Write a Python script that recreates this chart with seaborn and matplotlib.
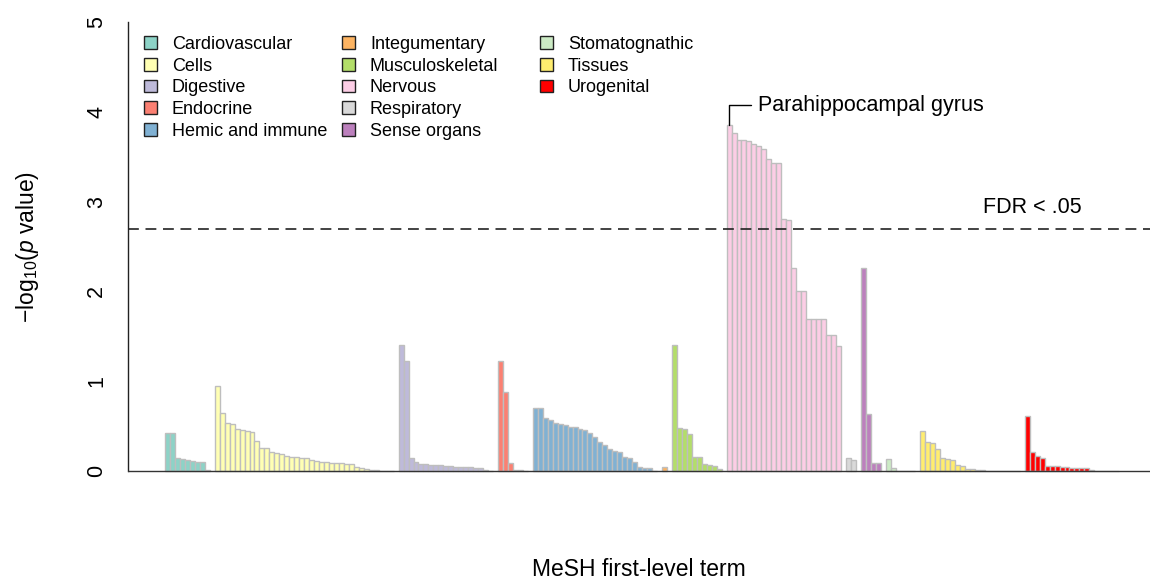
import numpy as np
import pandas as pd
import matplotlib
matplotlib.use("Agg")
import matplotlib.pyplot as plt
from matplotlib.patches import Patch
import seaborn as sns

# MeSH first-level groups, bars sorted within each group
groups = ["Cardiovascular", "Cells", "Digestive", "Endocrine", "Hemic and immune",
          "Integumentary", "Musculoskeletal", "Nervous", "Respiratory", "Sense organs",
          "Stomatognathic", "Tissues", "Urogenital"]
colors = ["#8DD3C7", "#FFFFB3", "#BEBADA", "#FB8072", "#80B1D3", "#FDB462", "#B3DE69",
          "#FCCDE5", "#D9D9D9", "#BC80BD", "#CCEBC5", "#FFED6F", "#FF0000"]

cardiovascular = [0.42, 0.42, 0.15, 0.13, 0.12, 0.11, 0.10, 0.10, 0.01]
cells = [0.95, 0.65, 0.53, 0.52, 0.47, 0.46, 0.45, 0.43, 0.34, 0.26, 0.26, 0.21, 0.20,
         0.19, 0.17, 0.16, 0.16, 0.15, 0.14, 0.12, 0.11, 0.10, 0.10, 0.09, 0.09, 0.09,
         0.08, 0.08, 0.04, 0.03, 0.02, 0.015, 0.01, 0.005, 0.002, 0.0]
digestive = [1.40, 1.22, 0.14, 0.10, 0.08, 0.075, 0.07, 0.07, 0.065, 0.06, 0.055, 0.05,
             0.045, 0.04, 0.04, 0.035, 0.03, 0.01, 0.0]
endocrine = [1.22, 0.88, 0.09, 0.01, 0.01, 0.0]
hemic = [0.70, 0.70, 0.59, 0.57, 0.54, 0.52, 0.51, 0.49, 0.49, 0.47, 0.46, 0.42, 0.38,
         0.32, 0.29, 0.24, 0.22, 0.21, 0.16, 0.14, 0.10, 0.04, 0.03, 0.03, 0.0]
integumentary = [0.05]
musculoskeletal = [1.40, 0.48, 0.47, 0.41, 0.16, 0.16, 0.08, 0.07, 0.06, 0.02]
nervous = [3.85, 3.76, 3.69, 3.69, 3.67, 3.64, 3.62, 3.59, 3.47, 3.43, 3.43, 2.81, 2.80,
           2.26, 2.00, 2.00, 1.69, 1.69, 1.69, 1.69, 1.52, 1.52, 1.39]
respiratory = [0.15, 0.12]
sense_organs = [2.26, 0.63, 0.09, 0.09]
stomatognathic = [0.13, 0.03, 0.0, 0.0, 0.0, 0.0]
tissues = [0.45, 0.32, 0.31, 0.25, 0.14, 0.13, 0.12, 0.07, 0.06, 0.02, 0.02, 0.01, 0.01,
           0.005, 0.005, 0.003, 0.0, 0.0, 0.0, 0.0]
urogenital = [0.61, 0.21, 0.17, 0.14, 0.06, 0.06, 0.06, 0.05, 0.045, 0.035, 0.035, 0.035,
              0.035, 0.015, 0.005, 0.0, 0.0, 0.0, 0.0]

values = [cardiovascular, cells, digestive, endocrine, hemic, integumentary, musculoskeletal,
          nervous, respiratory, sense_organs, stomatognathic, tissues, urogenital]

fdr_cut = 2.70
top_label = "Parahippocampal gyrus"

# one empty slot between groups
rows = []
pos = 0
starts = {}
for g, vals in zip(groups, values):
    starts[g] = pos
    for v in vals:
        rows.append({"pos": pos, "value": v, "group": g})
        pos += 1
    pos += 1
df = pd.DataFrame(rows)

sns.set_style("white")
plt.rcParams["font.family"] = ["Liberation Sans", "DejaVu Sans"]
plt.rcParams["text.color"] = "black"
plt.rcParams["mathtext.fontset"] = "custom"
plt.rcParams["mathtext.rm"] = "Liberation Sans"
plt.rcParams["mathtext.it"] = "Liberation Sans:italic"

W, H = 1150, 582
fig = plt.figure(figsize=(W / 100, H / 100), dpi=100)
ax = fig.add_axes([128 / W, (H - 489) / H, 1 - 128 / W, (489 - 4) / H])

sns.barplot(data=df, x="pos", y="value", hue="group", hue_order=groups,
            palette=dict(zip(groups, colors)), saturation=1, dodge=False, native_scale=True,
            width=1, edgecolor="#BEBEBE", linewidth=1.0, errorbar=None,
            legend=False, ax=ax)

ax.axhline(0, color="#333333", lw=1.0, zorder=5)
ax.axhline(fdr_cut, color="#222222", lw=1.2, linestyle=(0, (6.5, 4)), zorder=5)

ax.set_xlim(-7.95, 197.7)
ax.set_ylim(-0.2, 5.2)
ax.set_xticks([])
ax.set_xlabel("")
ax.set_ylabel("")
ax.set_yticks([0, 1, 2, 3, 4, 5])
ax.set_yticklabels(["0", "1", "2", "3", "4", "5"], rotation=90, va="center")
ax.tick_params(axis="y", length=6, width=1, pad=9, labelsize=15.5, colors="black")
for side in ["top", "right", "bottom"]:
    ax.spines[side].set_visible(False)
ax.spines["left"].set_bounds(0, 5)
ax.spines["left"].set_color("#222222")
ax.spines["left"].set_linewidth(1)

# label the top bar
x0 = starts["Nervous"]
y0 = max(nervous)
ax.plot([x0, x0, x0 + 4.4], [y0, 4.07, 4.07], color="black", lw=1.0, zorder=6)
ax.text(x0 + 5.8, 4.07, top_label, fontsize=15.5, va="center", ha="left")
ax.text(174, 2.93, "FDR < .05", fontsize=15.5, va="center", ha="center")

fig.text(28 / W, 1 - 247 / H, "\u2212log$_{10}$($\\mathit{p}$ value)", rotation=90,
         fontsize=16.5, va="center", ha="center")
fig.text(639 / W, 1 - 570 / H, "MeSH first-level term", fontsize=16.5,
         va="center", ha="center")

# legend in three columns like R's legend(ncol=3)
col_x = [144, 342, 540]
for c in range(3):
    handles = [Patch(facecolor=colors[i], edgecolor="#222222", linewidth=1.0, label=groups[i])
               for i in range(c * 5, min(c * 5 + 5, len(groups)))]
    leg = fig.legend(handles=handles, loc="upper left",
                     bbox_to_anchor=(col_x[c] / W, 1 - 36 / H), bbox_transform=fig.transFigure,
                     frameon=False, fontsize=13, handlelength=0.7, handleheight=0.7,
                     handletextpad=0.85, labelspacing=0.26, borderpad=0, borderaxespad=0)

fig.savefig("out.png", dpi=100)
